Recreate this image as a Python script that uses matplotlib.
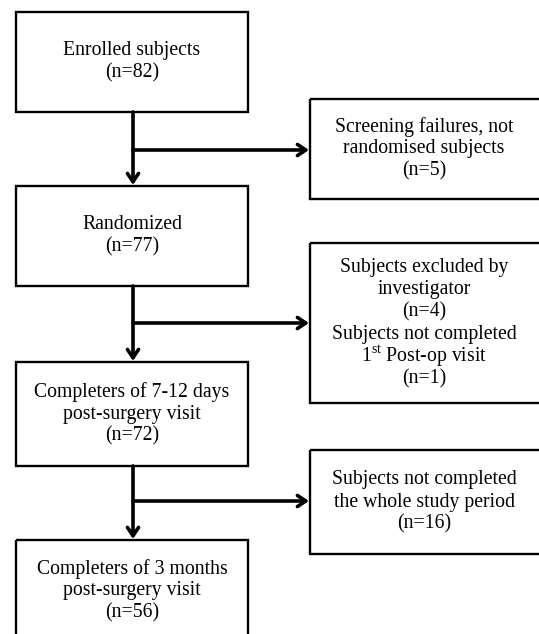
import matplotlib.pyplot as plt
from matplotlib.patches import Rectangle

plt.rcParams['font.family'] = 'Liberation Serif'
plt.rcParams['mathtext.fontset'] = 'custom'
plt.rcParams['mathtext.rm'] = 'Liberation Serif'

# flow chart content
main_text = [['Enrolled subjects'],
             ['Randomized'],
             ['Completers of 7-12 days', 'post-surgery visit'],
             ['Completers of 3 months', 'post-surgery visit']]
main_n = [82, 77, 72, 56]

side_text = [['Screening failures, not', 'randomised subjects', '(n=5)'],
             ['Subjects excluded by', 'investigator', '(n=4)',
              'Subjects not completed', r'1$^{\rm st}$ Post-op visit', '(n=1)'],
             ['Subjects not completed', 'the whole study period', '(n=16)']]

# layout in pixels (y downwards)
main_x0, main_x1 = 16, 248
main_y = [(12, 112), (186, 286), (362, 466), (540, 642)]
side_x0, side_x1 = 310, 545
side_cx = 424
side_y = [(99, 199), (243, 403), (450, 554)]
branch_y = [150, 323, 501]
line_h = 22.3

fig = plt.figure(figsize=(5.39, 6.34), dpi=100)
ax = fig.add_axes([0, 0, 1, 1])
ax.set_xlim(0, 539)
ax.set_ylim(634, 0)
ax.axis('off')


def box(x0, x1, y0, y1, lines, cx):
    ax.add_patch(Rectangle((x0, y0), x1 - x0, y1 - y0, fill=False,
                           lw=1.7, ec='black', clip_on=True))
    cy = (y0 + y1) / 2
    start = cy - (len(lines) - 1) * line_h / 2
    for k, s in enumerate(lines):
        ax.text(cx, start + k * line_h, s, ha='center', va='center',
                fontsize=14.2)


for (y0, y1), lines, n in zip(main_y, main_text, main_n):
    box(main_x0, main_x1, y0, y1, lines + ['(n=%d)' % n],
        (main_x0 + main_x1) / 2)

for (y0, y1), lines in zip(side_y, side_text):
    box(side_x0, side_x1, y0, y1, lines, side_cx)

xc = (main_x0 + main_x1) / 2 + 1
arrow = dict(arrowstyle='->,head_length=0.6,head_width=0.4', lw=2.6,
             color='black', shrinkA=0, shrinkB=0)
for i in range(3):
    ax.annotate('', xy=(xc, main_y[i + 1][0] - 1), xytext=(xc, main_y[i][1]),
                arrowprops=arrow)
    ax.annotate('', xy=(side_x0 - 1, branch_y[i]), xytext=(xc, branch_y[i]),
                arrowprops=arrow)

fig.savefig('out.png', dpi=100)
